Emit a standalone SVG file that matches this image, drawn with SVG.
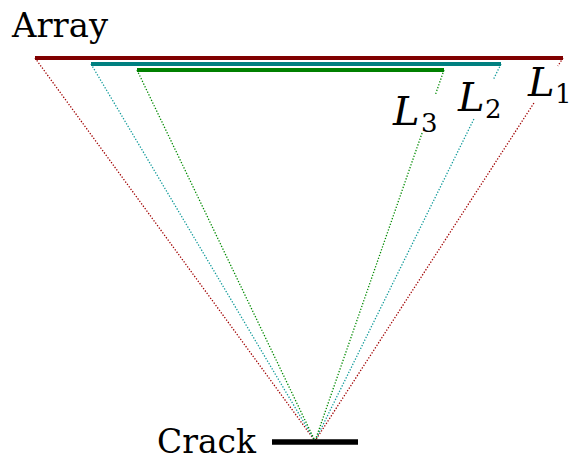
<svg xmlns="http://www.w3.org/2000/svg" width="571" height="464" viewBox="0 0 571 464">
<defs>
<style>
.d{fill:none;stroke-width:1.3;stroke-dasharray:1.3 1.7}
.bar{stroke-width:4.2;stroke-linecap:butt}
.sf{font-family:'DejaVu Serif',serif}
</style>
</defs>
<rect width="571" height="464" fill="#fff"/>
<g id="connectors">
<line class="d" stroke="#a00000" x1="35" y1="58" x2="315" y2="441"/>
<line class="d" stroke="#a00000" x1="563" y1="58" x2="557.8" y2="66"/>
<line class="d" stroke="#a00000" x1="533.9" y1="103" x2="315" y2="441"/>
<line class="d" stroke="#109a9a" x1="91" y1="64" x2="315" y2="441"/>
<line class="d" stroke="#109a9a" x1="501" y1="64" x2="493.1" y2="80"/>
<line class="d" stroke="#109a9a" x1="473.9" y1="119" x2="315" y2="441"/>
<line class="d" stroke="#008a00" x1="137" y1="70" x2="315" y2="441"/>
<line class="d" stroke="#008a00" x1="444" y1="70" x2="435.3" y2="95"/>
<line class="d" stroke="#008a00" x1="422.1" y1="133" x2="315" y2="441"/>
</g>
<g id="array">
<text class="sf" x="12" y="37" font-size="34" textLength="96" lengthAdjust="spacingAndGlyphs">Array</text>
</g>
<g id="L1">
<line class="bar" stroke="#800000" x1="35" y1="58" x2="563" y2="58"/>
<text class="sf" font-style="italic" x="528" y="96" font-size="40">L</text>
<text class="sf" x="555" y="103" font-size="26">1</text>
</g>
<g id="L2">
<line class="bar" stroke="#008080" x1="91" y1="64" x2="501" y2="64"/>
<text class="sf" font-style="italic" x="458" y="111" font-size="40">L</text>
<text class="sf" x="485" y="118" font-size="26">2</text>
</g>
<g id="L3">
<line class="bar" stroke="#008000" x1="137" y1="70" x2="444" y2="70"/>
<text class="sf" font-style="italic" x="393" y="125" font-size="40">L</text>
<text class="sf" x="421" y="132" font-size="26">3</text>
</g>
<g id="crack">
<line stroke="#000" stroke-width="5.5" x1="272" y1="442" x2="358" y2="442"/>
<text class="sf" x="157" y="453" font-size="34" textLength="99" lengthAdjust="spacingAndGlyphs">Crack</text>
</g>
</svg>
